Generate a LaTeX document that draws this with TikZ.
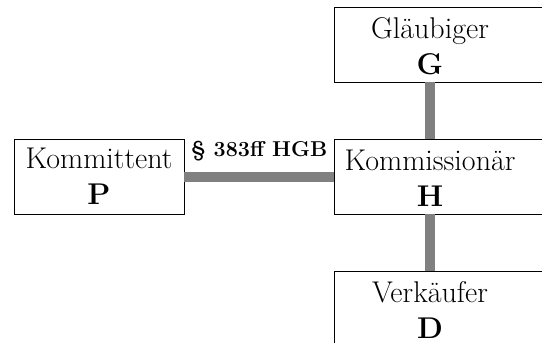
\documentclass[tikz,border=0pt]{standalone}
\usepackage{fontspec}
\begin{document}
\begin{tikzpicture}[x=1pt,y=1pt,
    box/.style={draw, line width=0.8pt, minimum height=75pt, inner sep=0pt},
    caption/.style={align=center, font=\fontsize{30}{36}\selectfont},
    bar/.style={line width=10pt, draw=gray}]
  \clip (0,0) rectangle (542,-343);
  \draw
    (99,-176.5) node[box, caption, minimum width=170pt] (P){Kommittent\\\textbf{P}}
    (334,-44.5) node[box, anchor=west, minimum width=230pt] (G){}
    (334,-176.5) node[box, anchor=west, minimum width=230pt] (H){}
    (334,-308.5) node[box, anchor=west, minimum width=230pt] (D){}
    (430,-46) node[caption] (Gtext){Gläubiger\\\textbf{G}}
    (430,-178) node[caption] (Htext){Kommissionär\\\textbf{H}}
    (430,-310) node[caption] (Dtext){Verkäufer\\\textbf{D}};
  \begin{scope}[bar]
    \draw (P.east) -- (H.west)
      node[midway, anchor=base, yshift=20pt, draw=none,
        font=\fontsize{21.5}{24}\selectfont\bfseries] (law){\S~383ff HGB};
    \draw (Gtext |- G.south) -- (Htext |- H.north);
    \draw (Htext |- H.south) -- (Dtext |- D.north);
  \end{scope}
\end{tikzpicture}
\end{document}
